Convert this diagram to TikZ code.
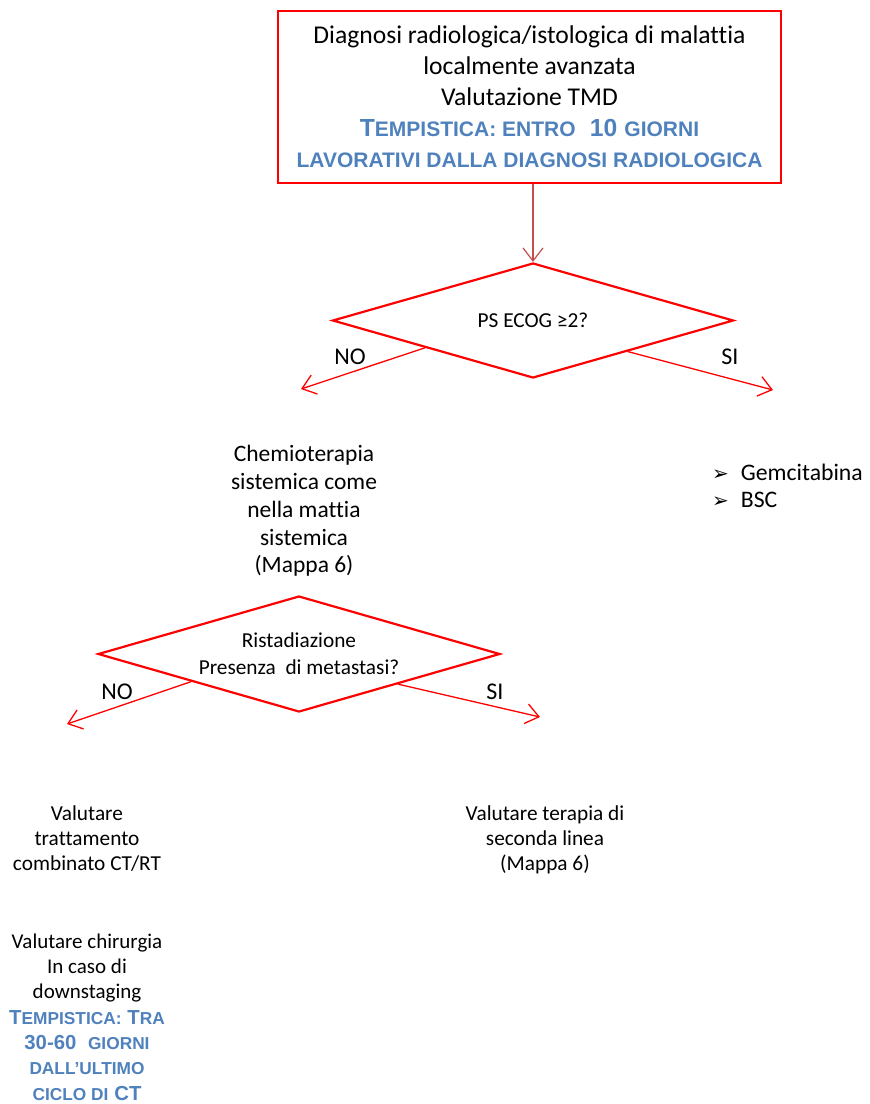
\documentclass[tikz,border=0pt]{standalone}
\usepackage{fontspec}
\setmainfont{Carlito}[Ligatures={TeX,NoCommon}]
\newfontfamily\tempfont{Liberation Sans}
\newfontfamily\symfont{DejaVu Sans}
\usepackage{xcolor}
\usetikzlibrary{positioning,arrows.meta,shapes.geometric,calc}

\definecolor{boxred}{RGB}{255,0,0}
\definecolor{linkred}{RGB}{192,80,77}
\definecolor{tempblue}{RGB}{79,129,189}
% fake small caps for the blue timing lines
\newcommand\tbig[1]{{\fontsize{24.7}{31}\selectfont #1}}
\newcommand\tsml[1]{{\fontsize{21}{31}\selectfont #1}}
\newcommand\bbig[1]{{\fontsize{20.3}{25.3}\selectfont #1}}
\newcommand\bsml[1]{{\fontsize{17.3}{25.3}\selectfont #1}}
\newcommand\pointer{{\symfont\fontsize{20}{25}\selectfont ➢}\hspace{12pt}}

\begin{document}
\begin{tikzpicture}[x=1pt, y=-1pt,
  box/.style={draw=boxred, line width=1.6pt, minimum width=503pt, minimum height=172pt, inner sep=0pt, align=center},
  decision/.style={draw=boxred, diamond, aspect=3.47, line width=2.2pt, inner sep=0pt, align=center, font=\fontsize{21.3}{27}\selectfont},
  txt/.style={align=center, inner sep=0pt},
  arr/.style={-{Straight Barb[length=13pt,width=20pt]}, line width=1.3pt, draw=boxred},
  lbl/.style={font=\fontsize{24}{28}\selectfont, inner sep=0pt}]
\useasboundingbox (0,0) rectangle (870,1104);
\node[box, font=\fontsize{25.6}{31}\selectfont] (diag) at (529.5,97) {Diagnosi radiologica/istologica di malattia\\localmente avanzata\\Valutazione TMD\\{\color{tempblue}\tempfont\bfseries\tbig{T}\tsml{EMPISTICA: ENTRO}\ \ \tbig{10} \tsml{GIORNI}}\\{\color{tempblue}\tempfont\bfseries\tsml{LAVORATIVI DALLA DIAGNOSI RADIOLOGICA}}};
\node[decision, minimum width=401pt, minimum height=115pt] (ecog) at (533,320.5) {PS ECOG ≥2?};
\draw[arr, draw=linkred, line width=1.2pt] (ecog.north |- diag.south) -- (ecog.north);
\coordinate (ecogno) at (301,389);
\coordinate (ecogsi) at (773,390);
\draw[arr] ($(ecog.south)!0.535!(ecog.west)$) -- (ecogno);
\draw[arr] ($(ecog.south)!0.47!(ecog.east)$) -- (ecogsi);
\node[lbl] (no1) at (350,357) {NO};
\node[lbl] (si1) at (730,357) {SI};
\node[txt, font=\fontsize{23.5}{27.8}\selectfont] (chemo) at (304,511) {Chemioterapia\\sistemica come\\nella mattia\\sistemica\\(Mappa 6)};
\node[txt, align=left, anchor=west, font=\fontsize{23.7}{27}\selectfont] (opts) at (712,486) {\pointer Gemcitabina\\\pointer BSC};
\node[decision, minimum width=402pt, minimum height=116pt] (restage) at (299,654) {Ristadiazione\\Presenza\ \ di metastasi?};
\coordinate (restageno) at (67,724);
\coordinate (restagesi) at (540,717);
\draw[arr] ($(restage.south)!0.533!(restage.west)$) -- (restageno);
\draw[arr] ($(restage.south)!0.49!(restage.east)$) -- (restagesi);
\node[lbl] (no2) at (117,692) {NO};
\node[lbl] (si2) at (495,692) {SI};
\node[txt, font=\fontsize{21.3}{25}\selectfont] (ctrt) at (87,838.5) {Valutare\\trattamento\\combinato CT/RT};
\node[txt, font=\fontsize{21.3}{25}\selectfont] (second) at (545,839.5) {Valutare terapia di\\seconda linea\\(Mappa 6)};
\node[txt, font=\fontsize{21}{25.3}\selectfont] (surgery) at (87,1017) {Valutare chirurgia\\In caso di\\downstaging\\{\color{tempblue}\tempfont\bfseries\bbig{T}\bsml{EMPISTICA:} \bbig{T}\bsml{RA}}\\{\color{tempblue}\tempfont\bfseries\bbig{30-60}\ \ \bsml{GIORNI}}\\{\color{tempblue}\tempfont\bfseries\bsml{DALL’ULTIMO}}\\{\color{tempblue}\tempfont\bfseries\bsml{CICLO DI} \bbig{CT}}};
\end{tikzpicture}
\end{document}
